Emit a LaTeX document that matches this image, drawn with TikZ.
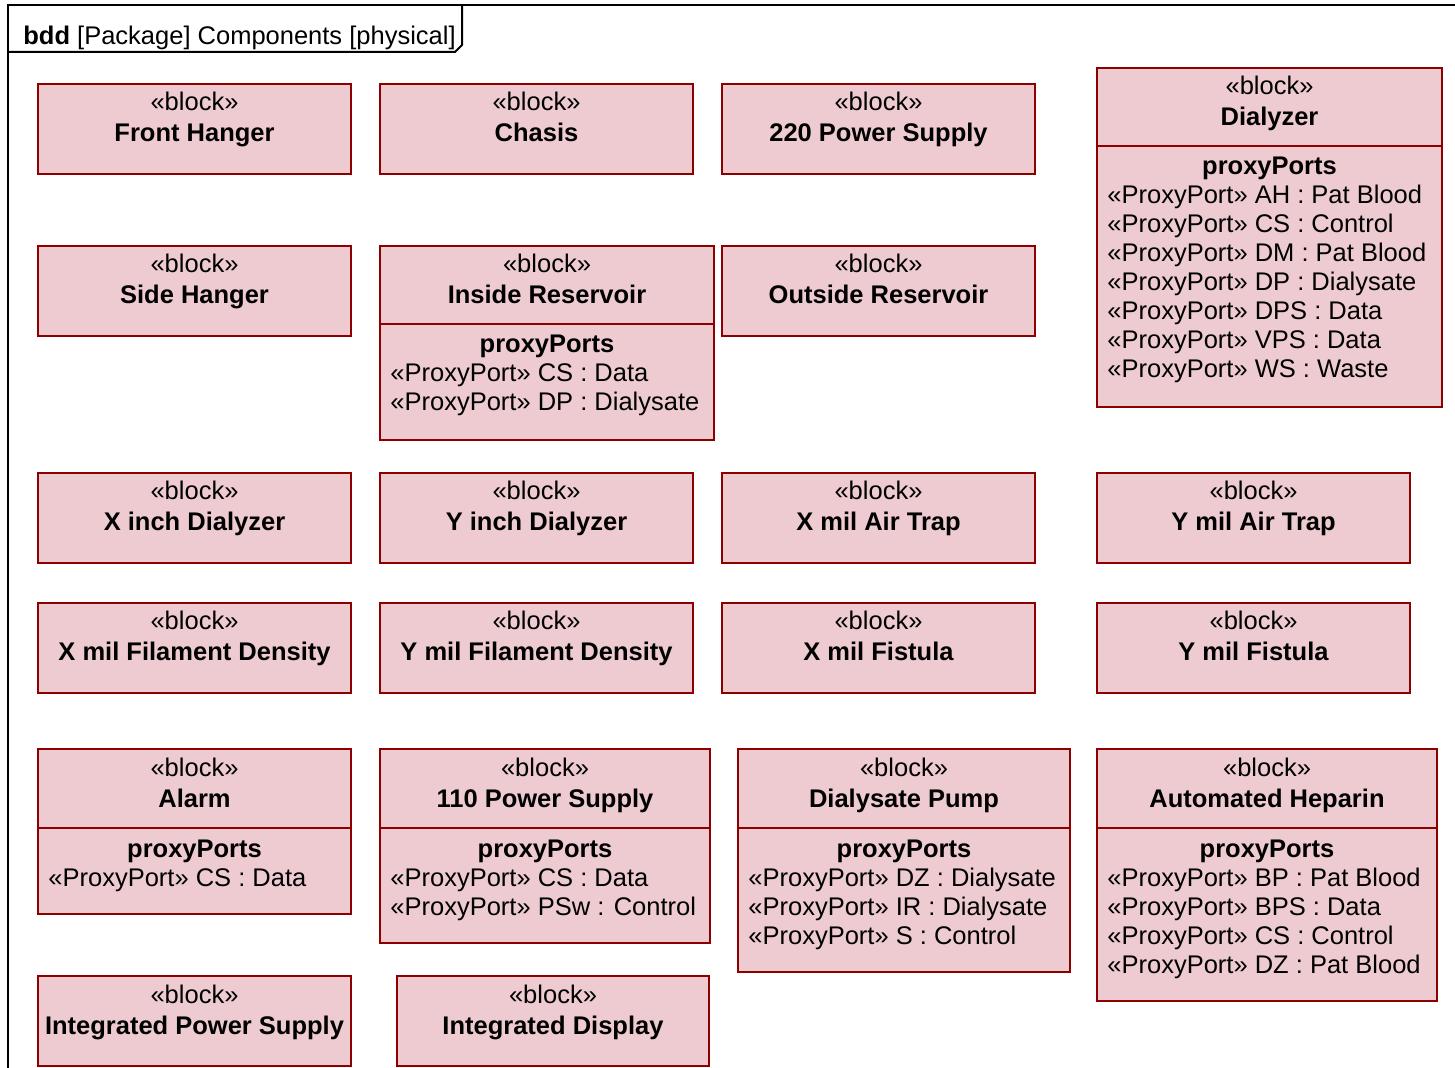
\documentclass[tikz,border=0pt]{standalone}
\usepackage{fontspec}
\setmainfont{Liberation Sans}
\definecolor{blockfill}{RGB}{237,203,209}
\definecolor{blockline}{RGB}{140,0,0}

\begin{document}
\begin{tikzpicture}[x=0.5pt, y=-0.5pt,
  every node/.style={font=\fontsize{12.75pt}{14.5pt}\selectfont, inner sep=0pt},
  blk/.style={draw=blockline, fill=blockfill, line width=1pt},
  frm/.style={draw=black, line width=1pt}]
\useasboundingbox (0,0) rectangle (1455,1068);
\draw[frm] (8,1090) -- (8,5) -- (1480,5);
\draw[frm] (8,52) -- (455,52) -- (462,45) -- (462,5);
\node[anchor=base west] (title) at (23,45) {\textbf{bdd} [Package] Components [physical]};

\foreach \xa/\ya/\xb/\yb/\nm/\lbl in {
  38/84/351/174/fronthanger/Front Hanger,
  380/84/693/174/chasis/Chasis,
  722/84/1035/174/supplyhigh/220 Power Supply,
  1097/68/1442/407/dialyzer/Dialyzer,
  38/246/351/336/sidehanger/Side Hanger,
  380/246/714/440/insideres/Inside Reservoir,
  722/246/1035/336/outsideres/Outside Reservoir,
  38/473/351/563/xdial/X inch Dialyzer,
  380/473/693/563/ydial/Y inch Dialyzer,
  722/473/1035/563/xtrap/X mil Air Trap,
  1097/473/1410/563/ytrap/Y mil Air Trap,
  38/603/351/693/xfil/X mil Filament Density,
  380/603/693/693/yfil/Y mil Filament Density,
  722/603/1035/693/xfist/X mil Fistula,
  1097/603/1410/693/yfist/Y mil Fistula,
  38/749/351/914/alarm/Alarm,
  380/749/710/943/supplylow/110 Power Supply,
  738/749/1070/972/dpump/Dialysate Pump,
  1097/749/1437/1001/heparin/Automated Heparin,
  38/976/351/1066/intsupply/Integrated Power Supply,
  397/976/709/1066/intdisplay/Integrated Display} {
  \draw[blk] (\xa,\ya) rectangle (\xb,\yb);
  \node[anchor=base] (\nm-st) at ({(\xa+\xb)/2},\ya+27) {«block»};
  \node[anchor=base] (\nm) at ({(\xa+\xb)/2},\ya+58) {\textbf{\lbl}};
}

\foreach \xa/\xb/\yd/\nm/\ports in {
  1097/1442/146/dialyzer/{«ProxyPort» AH : Pat Blood\\«ProxyPort» CS : Control\\«ProxyPort» DM : Pat Blood\\«ProxyPort» DP : Dialysate\\«ProxyPort» DPS : Data\\«ProxyPort» VPS : Data\\«ProxyPort» WS : Waste},
  380/714/324/insideres/{«ProxyPort» CS : Data\\«ProxyPort» DP : Dialysate},
  38/351/828/alarm/{«ProxyPort» CS : Data},
  380/710/828/supplylow/{«ProxyPort» CS : Data\\«ProxyPort» PSw : Control},
  738/1070/828/dpump/{«ProxyPort» DZ : Dialysate\\«ProxyPort» IR : Dialysate\\«ProxyPort» S : Control},
  1097/1437/828/heparin/{«ProxyPort» BP : Pat Blood\\«ProxyPort» BPS : Data\\«ProxyPort» CS : Control\\«ProxyPort» DZ : Pat Blood}} {
  \draw[blockline, line width=1pt] (\xa,\yd) -- (\xb,\yd);
  \node[anchor=base] (\nm-pp) at ({(\xa+\xb)/2},\yd+29) {\textbf{proxyPorts}};
  \node[anchor=base west] (\nm-ports) at (\xa+10,\yd+58)
    {\begin{tabular}[t]{@{}l@{}}\ports\end{tabular}};
}
\end{tikzpicture}
\end{document}
